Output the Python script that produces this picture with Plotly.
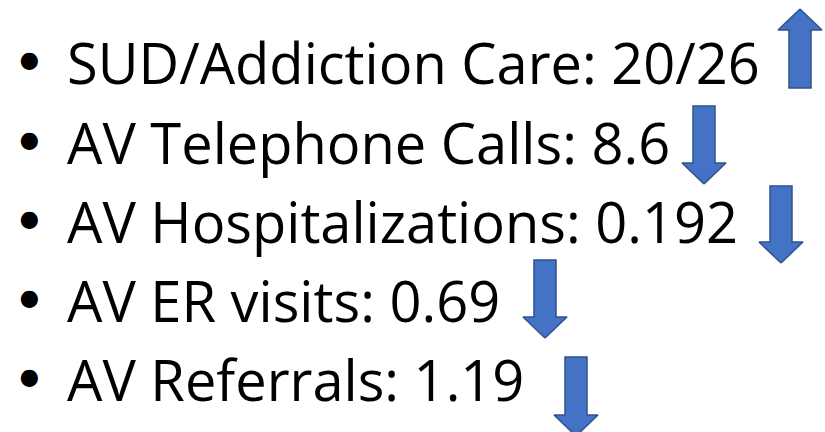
import plotly.graph_objects as go

# ---- data ----
labels = ["SUD/Addiction Care", "AV Telephone Calls", "AV Hospitalizations", "AV ER visits", "AV Referrals"]
values = ["20/26", "8.6", "0.192", "0.69", "1.19"]
directions = ["up", "down", "down", "down", "down"]

# ---- layout config (pixel space) ----
W, H = 825, 432
line_y = [62, 142, 221, 300, 379]
bullet_x = 29
bullet_dy = -5
text_x = 65
font_family = "Open Sans"
font_size = 56
bullet_family = "Lato"
bullet_size = 46
# arrow geometry: centre x, top y, bottom y
arrow_cx = [800, 704, 781, 545, 576]
arrow_top = [9, 106, 186, 260, 357]
arrow_bot = [88, 184, 263, 338, 436]
shaft_half = 11
head_half = 22
head_len = 21
fill_col = "#4472C4"
edge_col = "#2F528F"

fig = go.Figure()

for i, lab in enumerate(labels):
    fig.add_annotation(x=bullet_x, y=line_y[i] + bullet_dy, text="•", showarrow=False,
                       xanchor="center", yanchor="middle",
                       font=dict(family=bullet_family, size=bullet_size, color="black"))
    fig.add_annotation(x=text_x, y=line_y[i], text=f"{lab}: {values[i]}", showarrow=False,
                       xanchor="left", yanchor="middle",
                       font=dict(family=font_family, size=font_size, color="black"))

for i, d in enumerate(directions):
    cx, t, b = arrow_cx[i], arrow_top[i], arrow_bot[i]
    if d == "up":
        hb = t + head_len
        xs = [cx, cx + head_half, cx + shaft_half, cx + shaft_half, cx - shaft_half, cx - shaft_half, cx - head_half, cx]
        ys = [t, hb, hb, b, b, hb, hb, t]
    else:
        hb = b - head_len
        xs = [cx, cx + head_half, cx + shaft_half, cx + shaft_half, cx - shaft_half, cx - shaft_half, cx - head_half, cx]
        ys = [b, hb, hb, t, t, hb, hb, b]
    fig.add_trace(go.Scatter(x=xs, y=ys, mode="lines", fill="toself", fillcolor=fill_col,
                             line=dict(color=edge_col, width=1.5), hoverinfo="skip", showlegend=False))

fig.update_layout(
    width=W, height=H, margin=dict(l=0, r=0, t=0, b=0),
    paper_bgcolor="white", plot_bgcolor="white",
    xaxis=dict(range=[0, W], visible=False, fixedrange=True),
    yaxis=dict(range=[H, 0], visible=False, fixedrange=True),
    showlegend=False,
)

fig.write_html("out.html", config={"displayModeBar": False},
               post_script="document.body.style.margin='0';document.body.style.overflow='hidden';")
